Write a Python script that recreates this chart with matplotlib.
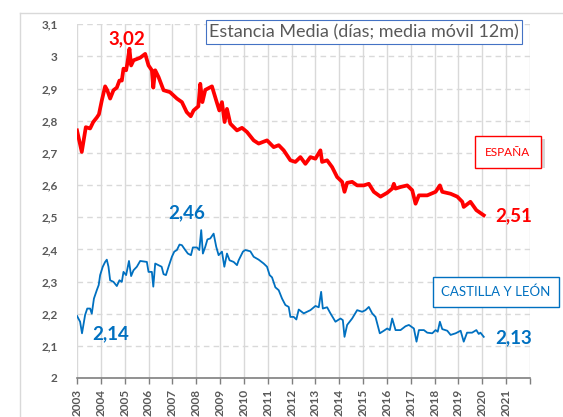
import matplotlib.pyplot as plt
from matplotlib.lines import Line2D
from matplotlib.patches import Rectangle
from matplotlib.ticker import FuncFormatter, MultipleLocator

# Estancia media (días), media móvil 12 meses (año decimal, valor)
esp_t = [2003.0, 2003.2, 2003.37, 2003.55, 2003.68, 2003.83, 2003.92, 2004.04, 2004.18,
         2004.27, 2004.39, 2004.53, 2004.67, 2004.78, 2004.88, 2004.95, 2005.06, 2005.11,
         2005.2, 2005.27, 2005.37, 2005.65, 2005.86, 2006.0, 2006.14, 2006.2, 2006.28,
         2006.42, 2006.63, 2006.9, 2007.19, 2007.4, 2007.6, 2007.77, 2007.89, 2008.09,
         2008.17, 2008.26, 2008.38, 2008.66, 2008.86, 2008.97, 2009.08, 2009.19, 2009.29,
         2009.43, 2009.71, 2009.92, 2010.13, 2010.41, 2010.62, 2010.97, 2011.25, 2011.46,
         2011.67, 2011.95, 2012.16, 2012.37, 2012.58, 2012.79, 2013.0, 2013.21, 2013.28,
         2013.49, 2013.7, 2013.91, 2014.12, 2014.22, 2014.33, 2014.54, 2014.75, 2015.03,
         2015.24, 2015.45, 2015.73, 2016.01, 2016.22, 2016.29, 2016.36, 2016.57, 2016.85,
         2017.06, 2017.2, 2017.34, 2017.69, 2018.04, 2018.22, 2018.32, 2018.67, 2018.95,
         2019.16, 2019.22, 2019.5, 2019.75, 2020.06]
esp_v = [2.770, 2.703, 2.780, 2.776, 2.796, 2.810, 2.820, 2.863, 2.907,
         2.895, 2.869, 2.895, 2.903, 2.925, 2.925, 2.962, 2.957, 2.978,
         3.024, 2.972, 2.988, 2.996, 3.008, 2.972, 2.957, 2.903, 2.957,
         2.936, 2.895, 2.889, 2.869, 2.858, 2.827, 2.814, 2.832, 2.845,
         2.915, 2.858, 2.896, 2.907, 2.858, 2.832, 2.858, 2.796, 2.837,
         2.791, 2.770, 2.778, 2.765, 2.739, 2.729, 2.739, 2.718, 2.724,
         2.708, 2.677, 2.672, 2.687, 2.666, 2.687, 2.682, 2.708, 2.672,
         2.677, 2.656, 2.625, 2.610, 2.579, 2.607, 2.610, 2.599, 2.599,
         2.604, 2.579, 2.564, 2.576, 2.589, 2.604, 2.589, 2.594, 2.599,
         2.584, 2.542, 2.568, 2.568, 2.579, 2.599, 2.579, 2.573, 2.564,
         2.548, 2.532, 2.548, 2.522, 2.506]

cyl_t = [2003.0, 2003.13, 2003.21, 2003.34, 2003.43, 2003.55, 2003.62, 2003.71, 2003.83,
         2003.91, 2003.97, 2004.08, 2004.18, 2004.25, 2004.32, 2004.39, 2004.53, 2004.67,
         2004.78, 2004.88, 2004.95, 2005.06, 2005.18, 2005.27, 2005.37, 2005.51, 2005.65,
         2005.93, 2006.0, 2006.14, 2006.2, 2006.28, 2006.42, 2006.55, 2006.63, 2006.73,
         2006.84, 2006.98, 2007.08, 2007.19, 2007.3, 2007.4, 2007.54, 2007.65, 2007.78,
         2007.86, 2008.03, 2008.13, 2008.21, 2008.28, 2008.38, 2008.47, 2008.59, 2008.73,
         2008.84, 2008.94, 2009.08, 2009.18, 2009.29, 2009.4, 2009.57, 2009.71, 2009.78,
         2009.96, 2010.06, 2010.27, 2010.41, 2010.62, 2010.83, 2010.97, 2011.08, 2011.18,
         2011.32, 2011.46, 2011.6, 2011.74, 2011.88, 2011.95, 2012.09, 2012.2, 2012.3,
         2012.51, 2012.79, 2013.0, 2013.14, 2013.24, 2013.31, 2013.49, 2013.63, 2013.84,
         2014.05, 2014.15, 2014.22, 2014.33, 2014.54, 2014.75, 2014.96, 2015.1, 2015.24,
         2015.38, 2015.52, 2015.7, 2015.87, 2016.01, 2016.12, 2016.22, 2016.36, 2016.57,
         2016.78, 2016.92, 2017.13, 2017.24, 2017.34, 2017.55, 2017.69, 2017.9, 2018.04,
         2018.13, 2018.22, 2018.32, 2018.53, 2018.67, 2018.88, 2019.09, 2019.22, 2019.36,
         2019.57, 2019.75, 2019.85, 2019.92, 2020.06]
cyl_v = [2.193, 2.175, 2.139, 2.196, 2.216, 2.216, 2.200, 2.247, 2.273,
         2.289, 2.320, 2.346, 2.361, 2.368, 2.346, 2.304, 2.299, 2.286,
         2.304, 2.299, 2.330, 2.320, 2.364, 2.317, 2.335, 2.346, 2.364,
         2.361, 2.330, 2.330, 2.284, 2.356, 2.351, 2.346, 2.323, 2.320,
         2.346, 2.377, 2.393, 2.398, 2.415, 2.413, 2.398, 2.387, 2.382,
         2.406, 2.406, 2.398, 2.460, 2.387, 2.408, 2.431, 2.434, 2.449,
         2.408, 2.382, 2.393, 2.346, 2.387, 2.366, 2.361, 2.351, 2.366,
         2.393, 2.398, 2.394, 2.377, 2.368, 2.356, 2.346, 2.320, 2.313,
         2.282, 2.273, 2.247, 2.227, 2.221, 2.190, 2.190, 2.182, 2.213,
         2.201, 2.211, 2.224, 2.220, 2.268, 2.216, 2.220, 2.201, 2.175,
         2.185, 2.180, 2.128, 2.165, 2.185, 2.211, 2.206, 2.211, 2.221,
         2.201, 2.190, 2.139, 2.147, 2.154, 2.149, 2.185, 2.149, 2.149,
         2.161, 2.165, 2.154, 2.113, 2.149, 2.149, 2.141, 2.139, 2.149,
         2.144, 2.175, 2.152, 2.147, 2.134, 2.139, 2.147, 2.113, 2.141,
         2.141, 2.149, 2.137, 2.141, 2.128]

years = list(range(2003, 2023))
year_labels = [str(y) for y in range(2003, 2022)] + [""]

RED = "#ff0000"
BLUE = "#0070c0"
GRAY = "#595959"
plt.rcParams["font.family"] = ["Lato", "DejaVu Sans"]

fig = plt.figure(figsize=(5.63, 4.17), dpi=100)
ax = fig.add_axes([77 / 563, 1 - 378 / 417, (530 - 77) / 563, (378 - 24.3) / 417])

ax.plot(esp_t, esp_v, color=RED, lw=2.7, solid_joinstyle="round", zorder=3)
ax.plot(cyl_t, cyl_v, color=BLUE, lw=1.3, zorder=3)

ax.set_xlim(2003, 2022)
ax.set_ylim(2, 3.1)
ax.set_xticks(years)
ax.set_xticklabels(year_labels, rotation=90, fontsize=8.5, fontweight="bold", color=GRAY)
ax.yaxis.set_major_locator(MultipleLocator(0.1))
ax.yaxis.set_major_formatter(FuncFormatter(lambda v, p: f"{v:.1f}".replace(".0", "").replace(".", ",")))
ax.tick_params(axis="y", length=0, pad=14, labelsize=8.5, labelcolor=GRAY)
for lab in ax.get_yticklabels():
    lab.set_fontweight("bold")
ax.tick_params(axis="x", length=4, width=1, color="#7f7f7f", pad=4)

ax.grid(axis="x", color="#d9d9d9", lw=1)
ax.grid(axis="y", color="#d9d9d9", lw=1, ls=(0, (4, 3)))
for s in ["top", "right", "left"]:
    ax.spines[s].set_visible(False)
ax.spines["bottom"].set_color("#7f7f7f")
ax.spines["bottom"].set_linewidth(1.2)

# Etiquetas de valores
lbl = dict(fontsize=13.5, fontweight="bold", ha="center", va="center", clip_on=False)
ax.text(2005.1, 3.056, "3,02", color=RED, **lbl)
ax.text(2007.6, 2.515, "2,46", color=BLUE, **lbl)
ax.text(2004.4, 2.137, "2,14", color=BLUE, **lbl)
ax.text(2021.3, 2.506, "2,51", color=RED, **lbl)
ax.text(2021.3, 2.124, "2,13", color=BLUE, **lbl)

# Sombras de los cuadros de serie
for x0, y0, w, h in [(475, 139, 70, 29), (437, 279, 123, 29)]:
    fig.add_artist(Rectangle((x0 / 563, 1 - (y0 + h) / 417), w / 563, h / 417,
                             transform=fig.transFigure, fc="#bfbfbf", ec="none", alpha=0.6))

# Título y etiquetas de serie en cuadros
fig.text(364 / 563, 1 - 32 / 417, "Estancia Media (días; media móvil 12m)", color=GRAY, fontsize=13,
         ha="center", va="center",
         bbox=dict(boxstyle="square,pad=0.2", fc="white", ec="#4472c4", lw=0.8))
fig.text(508 / 563, 1 - 152 / 417, "ESPAÑA", color=RED, fontsize=8.5, ha="center", va="center",
         bbox=dict(boxstyle="square,pad=0.9", fc="white", ec=RED, lw=1.0))
fig.text(496 / 563, 1 - 292 / 417, "CASTILLA Y LEÓN", color=BLUE, fontsize=9.5, ha="center", va="center",
         bbox=dict(boxstyle="square,pad=0.65", fc="white", ec=BLUE, lw=1.0))

# Marco del área del gráfico
fig.add_artist(Line2D([20 / 563, 20 / 563], [0, 1 - 13 / 417], color="#d9d9d9", lw=1))
fig.add_artist(Line2D([20 / 563, 1], [1 - 13 / 417, 1 - 13 / 417], color="#d9d9d9", lw=1))

fig.savefig("out.png", dpi=100)
